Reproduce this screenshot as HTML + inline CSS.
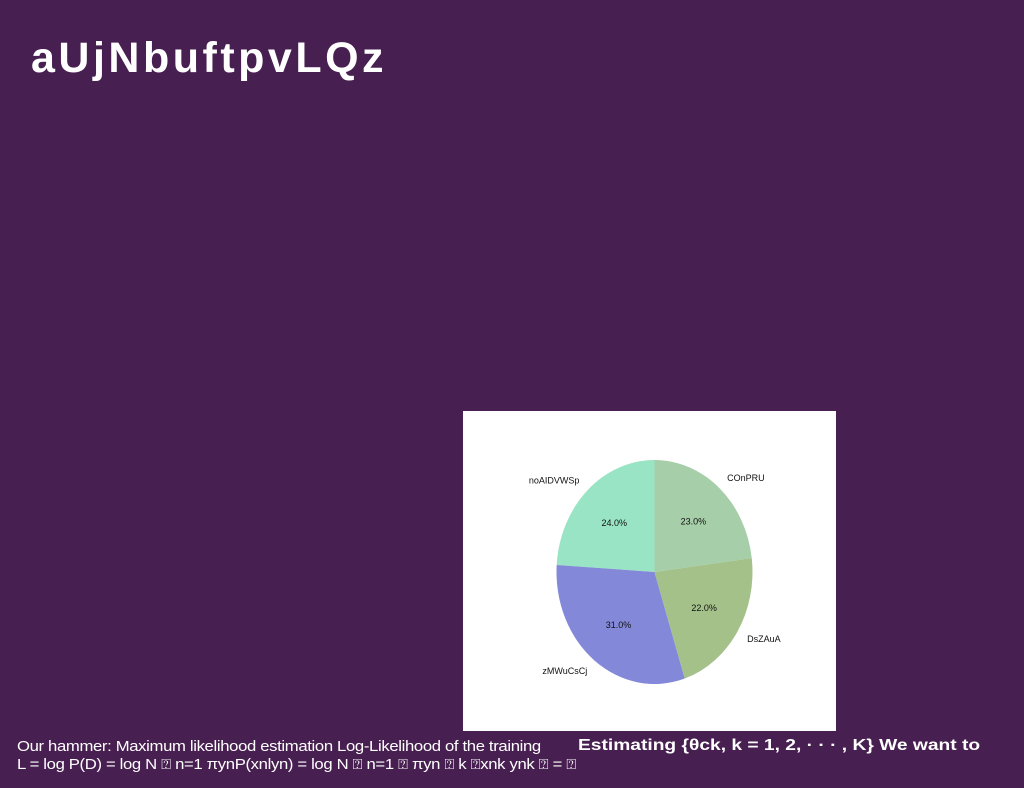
<!DOCTYPE html>
<html><head><meta charset="utf-8"><style>
body{margin:0;width:1024px;height:788px;background:#471f50;position:relative;overflow:hidden;font-family:"Liberation Sans",sans-serif}
#title{position:absolute;left:31px;top:34px;color:#fff;font-size:43px;font-weight:bold;letter-spacing:3.5px}
#chart{position:absolute;left:463px;top:411px;width:373px;height:320px;background:#fff}
#t1{position:absolute;left:17px;top:738px;color:#fff;font-size:14.5px;line-height:18px;letter-spacing:-0.3px;transform:scaleX(1.15);transform-origin:0 0;white-space:nowrap}
#t2{position:absolute;left:578px;top:737px;color:#fff;font-size:16px;font-weight:bold;transform:scaleX(1.2);transform-origin:0 0;white-space:nowrap}
</style></head><body>
<div id="title">aUjNbuftpvLQz</div>
<div id="chart"><svg id="svg" width="373" height="320"></svg></div>
<div id="t1">Our hammer: Maximum likelihood estimation Log-Likelihood of the training<br>L = log P(D) = log N ⍰ n=1 πynP(xnlyn) = log N ⍰ n=1 ⍰ πyn ⍰ k ⍰xnk ynk ⍰ = ⍰</div>
<div id="t2">Estimating {θck, k = 1, 2, · · · , K} We want to</div>
<script>
const labels=["noAIDVWSp","zMWuCsCj","DsZAuA","COnPRU"];
const values=[24,31,22,23];
const colors=["#98e4c5","#8488d9","#a4c18a","#a6cea8"];
const svg=document.getElementById('svg');
const NS="http://www.w3.org/2000/svg";
const cx=191.5,cy=161,rx=98,ry=112;
const total=values.reduce((a,b)=>a+b,0);
let ang=90;
function pt(a,f){const r=a*Math.PI/180;return [cx+rx*f*Math.cos(r),cy-ry*f*Math.sin(r)];}
values.forEach((v,i)=>{
  const sweep=v/total*360,a0=ang,a1=ang+sweep;
  const p0=pt(a0,1),p1=pt(a1,1);
  const path=document.createElementNS(NS,'path');
  path.setAttribute('d',`M${cx},${cy} L${p0[0]},${p0[1]} A${rx},${ry} 0 ${sweep>180?1:0} 0 ${p1[0]},${p1[1]} Z`);
  path.setAttribute('fill',colors[i]);
  
  
  svg.appendChild(path);
  const mid=(a0+a1)/2;
  const lp=pt(mid,1.12),pp=pt(mid,0.6);
  const t=document.createElementNS(NS,'text');
  t.setAttribute('x',lp[0]);t.setAttribute('y',lp[1]+3);
  t.setAttribute('font-size','9');t.setAttribute('fill','#111');
  t.setAttribute('text-anchor',Math.cos(mid*Math.PI/180)<0?'end':'start');
  t.textContent=labels[i];
  
  
  svg.appendChild(t);
  const q=document.createElementNS(NS,'text');
  q.setAttribute('x',pp[0]);q.setAttribute('y',pp[1]+3);
  q.setAttribute('font-size','9');q.setAttribute('fill','#111');q.setAttribute('text-anchor','middle');
  q.textContent=(v/total*100).toFixed(1)+'%';
  
  
  svg.appendChild(q);
  ang=a1;
});
</script>
</body></html>
